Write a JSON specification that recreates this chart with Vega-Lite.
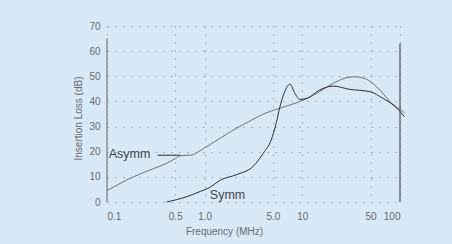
{
  "$schema": "https://vega.github.io/schema/vega-lite/v6.json",
  "autosize": {"type": "none"},
  "padding": {"left": 107, "top": 26, "right": 52, "bottom": 42},
  "width": 293,
  "height": 176,
  "background": "#d7e9f6",
  "config": {
    "view": {"stroke": null},
    "font": "Liberation Sans",
    "axis": {
      "labelFont": "Liberation Sans",
      "titleFont": "Liberation Sans",
      "labelColor": "#6a6a6a",
      "titleColor": "#6a6a6a",
      "labelFontSize": 10,
      "titleFontSize": 10,
      "titleFontWeight": "normal",
      "labelOverlap": false,
      "ticks": false,
      "gridColor": "#7a7a7a",
      "gridDash": [1, 7],
      "gridWidth": 1
    }
  },
  "datasets": {
    "curves": [
      {"f": 0.1, "db": 4.5, "s": "Asymm"},
      {"f": 0.186, "db": 10, "s": "Asymm"},
      {"f": 0.3, "db": 13.3, "s": "Asymm"},
      {"f": 0.408, "db": 15.4, "s": "Asymm"},
      {"f": 0.5, "db": 17.3, "s": "Asymm"},
      {"f": 0.56, "db": 18.4, "s": "Asymm"},
      {"f": 0.74, "db": 18.7, "s": "Asymm"},
      {"f": 0.83, "db": 19.6, "s": "Asymm"},
      {"f": 1.0, "db": 21.5, "s": "Asymm"},
      {"f": 1.43, "db": 25.3, "s": "Asymm"},
      {"f": 1.96, "db": 28.6, "s": "Asymm"},
      {"f": 3.0, "db": 32.5, "s": "Asymm"},
      {"f": 4.0, "db": 35, "s": "Asymm"},
      {"f": 5.9, "db": 37.3, "s": "Asymm"},
      {"f": 7.5, "db": 38.6, "s": "Asymm"},
      {"f": 9.45, "db": 40, "s": "Asymm"},
      {"f": 12, "db": 41.8, "s": "Asymm"},
      {"f": 15, "db": 43.9, "s": "Asymm"},
      {"f": 20.7, "db": 47.2, "s": "Asymm"},
      {"f": 27, "db": 49.2, "s": "Asymm"},
      {"f": 34.5, "db": 49.8, "s": "Asymm"},
      {"f": 45.5, "db": 48.8, "s": "Asymm"},
      {"f": 62, "db": 44.6, "s": "Asymm"},
      {"f": 82, "db": 39.3, "s": "Asymm"},
      {"f": 100, "db": 36.8, "s": "Asymm"},
      {"f": 111, "db": 35.5, "s": "Asymm"},
      {"f": 0.408, "db": 0, "s": "Symm"},
      {"f": 0.654, "db": 2.1, "s": "Symm"},
      {"f": 0.9, "db": 4.2, "s": "Symm"},
      {"f": 1.13, "db": 5.8, "s": "Symm"},
      {"f": 1.43, "db": 8.6, "s": "Symm"},
      {"f": 2.13, "db": 10.9, "s": "Symm"},
      {"f": 3.14, "db": 14.2, "s": "Symm"},
      {"f": 3.98, "db": 19.4, "s": "Symm"},
      {"f": 4.8, "db": 24.7, "s": "Symm"},
      {"f": 5.4, "db": 31.3, "s": "Symm"},
      {"f": 5.9, "db": 37.9, "s": "Symm"},
      {"f": 6.6, "db": 43.9, "s": "Symm"},
      {"f": 7.47, "db": 46.9, "s": "Symm"},
      {"f": 8.4, "db": 43.2, "s": "Symm"},
      {"f": 9.45, "db": 40.8, "s": "Symm"},
      {"f": 11.1, "db": 41.2, "s": "Symm"},
      {"f": 15.1, "db": 44.6, "s": "Symm"},
      {"f": 20.7, "db": 46.1, "s": "Symm"},
      {"f": 30.6, "db": 44.8, "s": "Symm"},
      {"f": 49, "db": 43.9, "s": "Symm"},
      {"f": 67, "db": 41.2, "s": "Symm"},
      {"f": 85, "db": 38.6, "s": "Symm"},
      {"f": 100, "db": 36, "s": "Symm"},
      {"f": 111, "db": 33.9, "s": "Symm"}
    ],
    "labels": [
      {"f": 0.104, "db": 18.9, "t": "Asymm"},
      {"f": 1.13, "db": 2.6, "t": "Symm"}
    ],
    "leader": [
      {"f": 0.33, "f2": 0.56, "db": 18.6}
    ],
    "edge": [
      {"f": 100, "db": 0, "db2": 63}
    ],
    "leftedge": [
      {"f": 0.1, "db": 0, "db2": 65}
    ]
  },
  "encoding": {
    "x": {
      "field": "f", "type": "quantitative",
      "scale": {"type": "log", "domain": [0.1, 100], "nice": false},
      "axis": {
        "values": [0.1, 0.5, 1, 5, 10, 50, 100],
        "labelExpr": "datum.value == 1 ? '1.0' : datum.value == 5 ? '5.0' : datum.value == 0.5 ? '0.5' : datum.value == 0.1 ? '0.1' : datum.label",
        "labelPadding": 9,
        "labelOverlap": false,
        "domain": false,
        "title": "Frequency (MHz)",
        "titleX": 117,
        "titleY": 29,
        "titleBaseline": "middle"
      }
    },
    "y": {
      "field": "db", "type": "quantitative",
      "scale": {"type": "linear", "domain": [0, 70], "nice": false, "zero": false},
      "axis": {
        "values": [0, 10, 20, 30, 40, 50, 60, 70],
        "tickCount": 8,
        "labelOverlap": false,
        "labelPadding": 7,
        "domain": false,
        "title": "Insertion Loss (dB)",
        "titleX": -29,
        "titleY": 92,
        "titleBaseline": "middle"
      }
    }
  },
  "layer": [
    {
      "data": {"name": "leftedge"},
      "mark": {"type": "rule", "color": "#808080", "strokeWidth": 1.3},
      "encoding": {
        "y2": {"field": "db2"}
      }
    },
    {
      "data": {"name": "curves"},
      "mark": {"type": "line", "interpolate": "monotone", "strokeWidth": 1, "clip": false},
      "encoding": {
        "color": {
          "field": "s", "type": "nominal",
          "scale": {"domain": ["Asymm", "Symm"], "range": ["#6f6f6f", "#2e2e2e"]},
          "legend": null
        }
      }
    },
    {
      "data": {"name": "leader"},
      "mark": {"type": "rule", "color": "#2e2e2e", "strokeWidth": 1},
      "encoding": {
        "x2": {"field": "f2"}
      }
    },
    {
      "data": {"name": "edge"},
      "mark": {"type": "rule", "color": "#5a5a5a", "strokeWidth": 1.3},
      "encoding": {
        "y2": {"field": "db2"}
      }
    },
    {
      "data": {"name": "labels"},
      "mark": {"type": "text", "align": "left", "baseline": "middle", "fontSize": 12.5, "color": "#444444", "font": "Liberation Sans"},
      "encoding": {
        "text": {"field": "t"}
      }
    }
  ]
}
